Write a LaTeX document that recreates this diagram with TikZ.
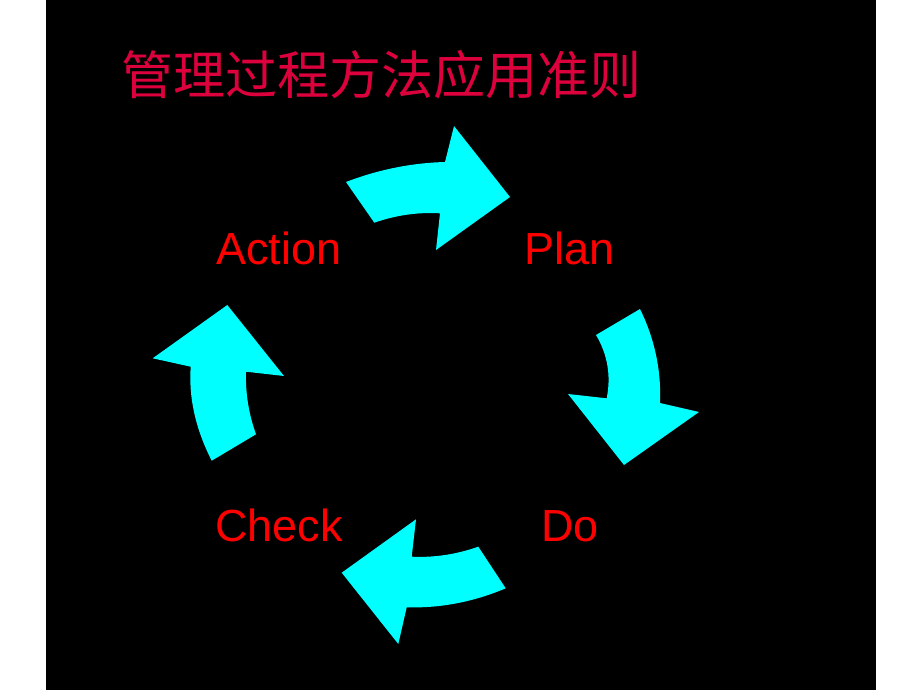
\documentclass[tikz,border=0pt]{standalone}
\usepackage{fontspec}
\usetikzlibrary{calc}
\setmainfont{Liberation Sans}
\newfontfamily\cjk{Noto Sans CJK SC}
\definecolor{cyanarrow}{RGB}{0,255,255}
\definecolor{labelred}{RGB}{255,0,0}
\definecolor{titlered}{RGB}{220,0,60}
\begin{document}
\begin{tikzpicture}[x=1pt,y=-1pt,
  cyc/.style={fill=cyanarrow, draw=none},
  lbl/.style={text=labelred, font=\fontsize{45}{54}\selectfont, inner sep=0pt, outer sep=0pt, anchor=base west}]
\useasboundingbox (0,0) rectangle (920,690);
\fill[white] (0,0) rectangle (920,690);
\fill[black] (46,0) rectangle (876,690);
% top arrow (Action -> Plan)
\coordinate (t1) at (346,182);   \coordinate (t1c) at (394.5,163.4);
\coordinate (t2) at (445,162);
\coordinate (t6) at (440,213.3); \coordinate (t6c) at (406.8,211.4);
\coordinate (t7) at (374.3,222.7);
\fill[cyc] (t1) .. controls ($(t1)!0.6667!(t1c)$) and ($(t2)!0.6667!(t1c)$) .. (t2)
  -- (454,126) -- (510,197) -- (436,250) -- (t6)
  .. controls ($(t6)!0.6667!(t6c)$) and ($(t7)!0.6667!(t6c)$) .. (t7) -- cycle;
% right arrow (Plan -> Do)
\coordinate (r2) at (640,309);   \coordinate (r2c) at (662,354);
\coordinate (r3) at (660,403);
\coordinate (r7) at (606.7,398.3); \coordinate (r7c) at (613.4,364.3);
\coordinate (r1) at (596,335);
\fill[cyc] (r2) .. controls ($(r2)!0.6667!(r2c)$) and ($(r3)!0.6667!(r2c)$) .. (r3)
  -- (699,412) -- (624,465) -- (568,394) -- (r7)
  .. controls ($(r7)!0.6667!(r7c)$) and ($(r1)!0.6667!(r7c)$) .. (r1) -- cycle;
% bottom arrow (Do -> Check)
\coordinate (b2) at (505.7,588.3); \coordinate (b2c) at (457.2,608.8);
\coordinate (b3) at (406.7,607.3);
\coordinate (b7) at (411.7,556.7); \coordinate (b7c) at (445,558.3);
\coordinate (b1) at (478.3,546.7);
\fill[cyc] (b2) .. controls ($(b2)!0.6667!(b2c)$) and ($(b3)!0.6667!(b2c)$) .. (b3)
  -- (398.3,644) -- (341.7,572.7) -- (416,519.3) -- (b7)
  .. controls ($(b7)!0.6667!(b7c)$) and ($(b1)!0.6667!(b7c)$) .. (b1) -- cycle;
% left arrow (Check -> Action)
\coordinate (l1) at (211.7,460.7); \coordinate (l1c) at (187.4,412.9);
\coordinate (l7) at (190.7,366.7);
\coordinate (l3) at (246,371.7);   \coordinate (l3c) at (245,403.6);
\coordinate (l2) at (256,434.3);
\fill[cyc] (l1) .. controls ($(l1)!0.6667!(l1c)$) and ($(l7)!0.6667!(l1c)$) .. (l7)
  -- (152.7,358.3) -- (227.3,305) -- (284,376) -- (l3)
  .. controls ($(l3)!0.6667!(l3c)$) and ($(l2)!0.6667!(l3c)$) .. (l2) -- cycle;
% labels
\node[lbl] (action) at (216,264) {Action};
\node[lbl] (plan) at (524.5,264) {Plan};
\node[lbl] (check) at (215,541) {Check};
\node[lbl] (do) at (541.5,541) {Do};
\node[text=titlered, font=\cjk\fontsize{52}{60}\selectfont, inner sep=0pt, outer sep=0pt, anchor=base west] (title) at (121,95) {管理过程方法应用准则};
\end{tikzpicture}
\end{document}
